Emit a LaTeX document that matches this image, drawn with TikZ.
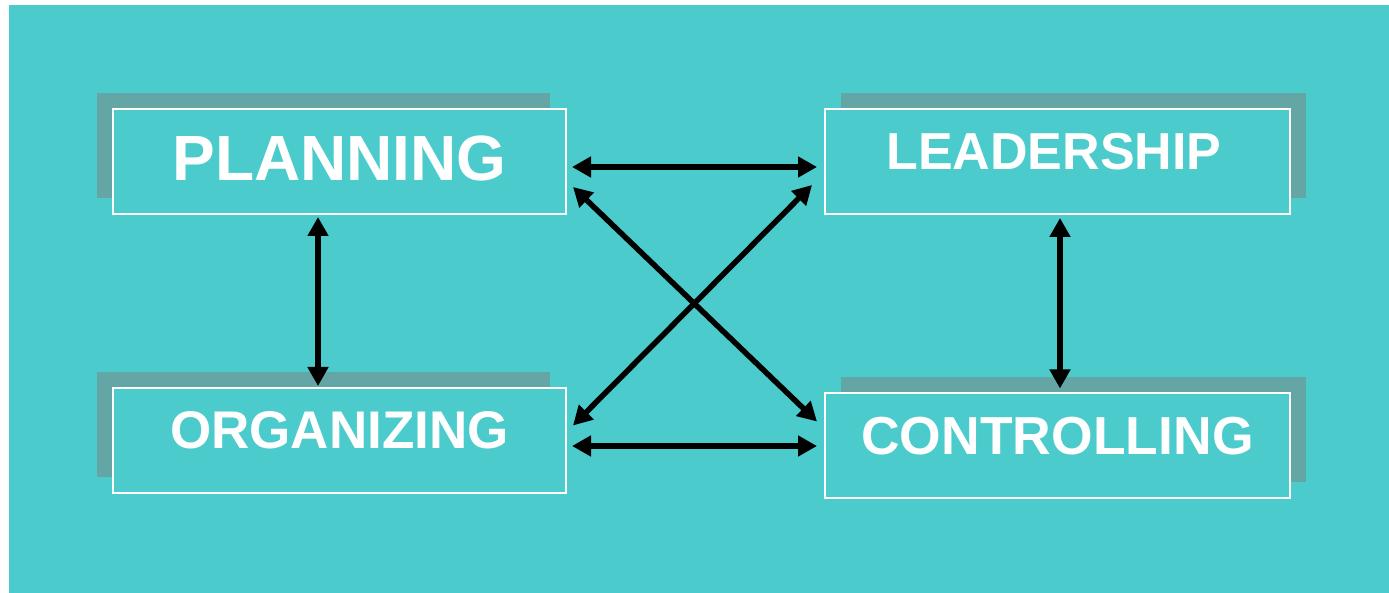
\documentclass[tikz,border=0pt]{standalone}
\usepackage{fontspec}
\setmainfont{Liberation Sans}
\usetikzlibrary{arrows.meta,shadows}
\definecolor{teal1}{RGB}{75,203,204}
\definecolor{shade1}{RGB}{100,165,166}
\newcommand{\uptext}[2]{\raisebox{#1}[\height][\depth]{#2}}
\begin{document}
\begin{tikzpicture}[x=1pt,y=1pt,
  box/.style={draw=white, line width=2pt, fill=teal1, inner sep=0pt,
    minimum height=105pt, text=white, font=\bfseries\fontsize{52}{60}\selectfont},
  lshadow/.style={general shadow={fill=shade1, shadow xshift=-16pt, shadow yshift=16pt}},
  rshadow/.style={general shadow={fill=shade1, shadow xshift=16pt, shadow yshift=16pt}},
  arr/.style={line width=5.5pt, {Triangle[length=19pt,width=20pt]}-{Triangle[length=19pt,width=20pt]}}
]
\useasboundingbox (0,0) rectangle (1389,593);
\fill[white] (0,0) rectangle (1389,593);
\fill[teal1] (9,0) rectangle (1389,588);

\node[box, lshadow, minimum width=453pt] (pl) at (339.5,431.5)
  {\fontsize{64}{70}\selectfont\uptext{3pt}{PLANNING}};
\node[box, rshadow, minimum width=465pt] (le) at (1057.5,431.5)
  {\uptext{9.5pt}{LEADERSHIP\hspace{7pt}}};
\node[box, lshadow, minimum width=453pt] (or) at (339.5,152.5)
  {\fontsize{53}{60}\selectfont\uptext{10pt}{ORGANIZING}};
\node[box, rshadow, minimum width=465pt] (co) at (1057.5,147.5)
  {\fontsize{53.5}{60}\selectfont\uptext{9.5pt}{CONTROLLING}};

% horizontal
\draw[arr] ([xshift=5pt,yshift=-5.5pt]pl.east) -- ([xshift=-7pt,yshift=-5.5pt]pl.east -| le.west);
\draw[arr] ([xshift=5pt,yshift=-5.5pt]or.east) -- ([xshift=-7pt,yshift=-5.5pt]or.east -| co.west);
% vertical
\draw[arr] ([xshift=-21.5pt,yshift=-2pt]pl.south) -- ([xshift=-21.5pt,yshift=1pt]or.north);
\draw[arr] ([xshift=2.5pt,yshift=-3pt]le.south) -- ([xshift=2.5pt,yshift=3.5pt]co.north);
% diagonals
\draw[arr] ([xshift=6pt,yshift=28pt]pl.south east) -- ([xshift=-7pt,yshift=-29.5pt]co.north west);
\draw[arr] ([xshift=-12pt,yshift=30pt]le.south west) -- ([xshift=6pt,yshift=-38.5pt]or.north east);
\end{tikzpicture}
\end{document}
